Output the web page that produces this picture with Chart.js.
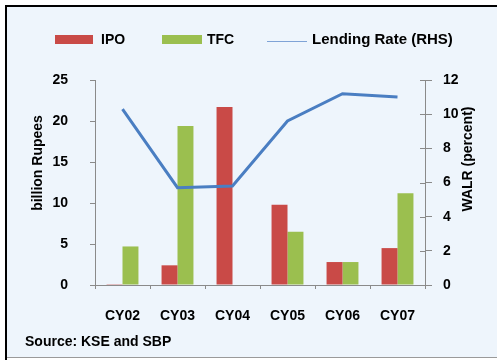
<!DOCTYPE html>
<html>
<head>
<meta charset="utf-8">
<script src="https://cdn.jsdelivr.net/npm/chart.js@4/dist/chart.umd.min.js"></script>
<style>
  html, body { margin: 0; padding: 0; background: #ffffff; }
  #wrap { width: 497px; height: 360px; }
</style>
</head>
<body>
<div id="wrap"><canvas id="c" width="497" height="360"></canvas></div>
<script>
// Calendar years
const categories = ['CY02', 'CY03', 'CY04', 'CY05', 'CY06', 'CY07'];
// Funds raised, billion Rupees
const ipoValues = [0.1, 2.4, 21.7, 9.8, 2.8, 4.5];
const tfcValues = [4.7, 19.4, 0, 6.5, 2.8, 11.2];
// Weighted average lending rate, percent (right axis)
const lendingRate = [10.3, 5.7, 5.8, 9.6, 11.2, 11.0];
const leftTitle = 'billion Rupees';
const rightTitle = 'WALR (percent)';
const sourceNote = 'Source: KSE and SBP';

const FONT = '"Liberation Sans", Arial, sans-serif';
const RED = '#c94a47';
const GREEN = '#9bbf4f';
const BLUE = '#4a7ec2';
const AXIS = '#8a8a8a';

function byLabel(chart, name) {
  return chart.data.datasets.find(d => d.label === name);
}

// Panel background, frame, legend, axis titles and source line
const framePlugin = {
  id: 'framePlugin',
  beforeDraw(chart) {
    const ctx = chart.ctx;
    ctx.save();
    ctx.fillStyle = '#ffffff';
    ctx.fillRect(0, 0, 497, 360);
    ctx.fillStyle = '#eef5fc';
    ctx.fillRect(6, 6, 491, 352);
    ctx.fillStyle = '#9a9a9a';
    ctx.fillRect(6, 357, 491, 1);
    ctx.fillStyle = '#000000';
    ctx.fillRect(5, 5, 492, 2);
    ctx.fillRect(5, 5, 2, 355);
    ctx.restore();
  },
  afterDraw(chart) {
    const ctx = chart.ctx;
    const ipo = byLabel(chart, 'IPO');
    const tfc = byLabel(chart, 'TFC');
    const rate = byLabel(chart, 'Lending Rate (RHS)');
    ctx.save();
    ctx.font = 'bold 14px ' + FONT;
    ctx.textBaseline = 'middle';
    // legend entries
    ctx.fillStyle = ipo.backgroundColor;
    ctx.fillRect(55, 35, 38, 9);
    ctx.fillStyle = '#000';
    ctx.fillText(ipo.label, 101, 40);
    ctx.fillStyle = tfc.backgroundColor;
    ctx.fillRect(162, 35, 40, 9);
    ctx.fillStyle = '#000';
    ctx.fillText(tfc.label, 207, 40);
    ctx.strokeStyle = '#7fa3d6';
    ctx.lineWidth = 1.2;
    ctx.beginPath();
    ctx.moveTo(267, 41.5);
    ctx.lineTo(307, 41.5);
    ctx.stroke();
    ctx.font = 'bold 15px ' + FONT;
    ctx.fillText(rate.label, 312, 40);
    ctx.font = 'bold 14px ' + FONT;
    // source
    ctx.fillText(sourceNote, 25, 342);
    // right-axis tick marks reach a little inside the plot
    const y1 = chart.scales.y1;
    ctx.strokeStyle = AXIS;
    ctx.lineWidth = 1;
    y1.ticks.forEach(t => {
      const py = Math.round(y1.getPixelForValue(t.value)) + 0.5;
      ctx.beginPath();
      ctx.moveTo(y1.left - 5, py);
      ctx.lineTo(y1.left, py);
      ctx.stroke();
    });
    // axis titles, both reading bottom to top
    ctx.fillStyle = '#000';
    ctx.textAlign = 'center';
    ctx.translate(38, 163);
    ctx.rotate(-Math.PI / 2);
    ctx.fillText(leftTitle, 0, 0);
    ctx.setTransform(1, 0, 0, 1, 0, 0);
    ctx.translate(468, 159);
    ctx.rotate(-Math.PI / 2);
    ctx.fillText(rightTitle, 0, 0);
    ctx.restore();
  }
};

new Chart(document.getElementById('c'), {
  type: 'bar',
  data: {
    labels: categories,
    datasets: [
      {
        type: 'line',
        label: 'Lending Rate (RHS)',
        data: lendingRate,
        yAxisID: 'y1',
        borderColor: BLUE,
        backgroundColor: BLUE,
        borderWidth: 3,
        pointRadius: 0,
        tension: 0,
        order: 0
      },
      {
        label: 'IPO',
        data: ipoValues,
        yAxisID: 'y',
        backgroundColor: RED,
        borderWidth: 0,
        order: 1
      },
      {
        label: 'TFC',
        data: tfcValues,
        yAxisID: 'y',
        backgroundColor: GREEN,
        borderWidth: 0,
        order: 1
      }
    ]
  },
  options: {
    responsive: false,
    animation: false,
    devicePixelRatio: 1,
    layout: { padding: { top: 80, bottom: 35, left: 0, right: 0 } },
    datasets: { bar: { categoryPercentage: 0.58, barPercentage: 1.0 } },
    plugins: {
      legend: { display: false },
      tooltip: { enabled: false }
    },
    scales: {
      x: {
        grid: { drawOnChartArea: false, drawTicks: true, tickLength: 4, color: AXIS, offset: true },
        border: { display: true, color: AXIS, width: 1 },
        ticks: { color: '#000', font: { family: FONT, size: 14, weight: 'bold' }, padding: 19, maxRotation: 0 },
        afterFit(s) { s.height = 40; }
      },
      y: {
        position: 'left',
        min: 0, max: 25,
        grid: { drawOnChartArea: false, drawTicks: true, tickLength: 5, color: AXIS },
        border: { display: true, color: AXIS, width: 1 },
        ticks: { stepSize: 5, color: '#000', font: { family: FONT, size: 14, weight: 'bold' }, padding: 22 },
        afterFit(s) { s.width = 95; }
      },
      y1: {
        position: 'right',
        min: 0, max: 12,
        grid: { drawOnChartArea: false, drawTicks: true, tickLength: 7, color: AXIS },
        border: { display: true, color: AXIS, width: 1 },
        ticks: { stepSize: 2, color: '#000', font: { family: FONT, size: 14, weight: 'bold' }, padding: 11 },
        afterFit(s) { s.width = 72; }
      }
    }
  },
  plugins: [framePlugin]
});
</script>
</body>
</html>
